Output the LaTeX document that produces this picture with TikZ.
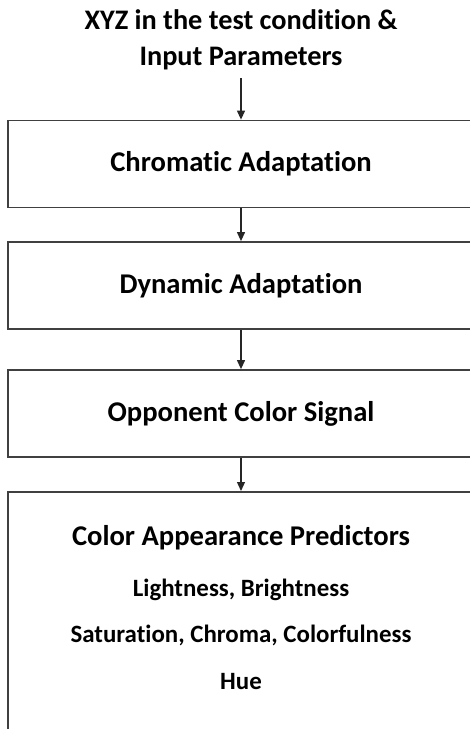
\documentclass[tikz,border=0pt]{standalone}
\usepackage{fontspec}
\setmainfont{Carlito}[Ligatures=NoCommon]
\usepackage{tikz}
\usetikzlibrary{arrows.meta}
\def\boxwidth{466pt}
\def\boxheight{87pt}

\begin{document}
\begin{tikzpicture}[-{Triangle[length=9pt,width=8pt]},draw=black!85,line width=1.2pt]
    \tikzstyle{stage}=[rectangle,draw=black!75,line width=1.8pt,minimum width=\boxwidth,minimum height=\boxheight,inner sep=0pt,font=\fontsize{28.6}{32}\selectfont\bfseries]
    \tikzstyle{title}=[align=center,inner sep=0pt,outer sep=8pt,font=\fontsize{28.3}{36}\selectfont\bfseries]
    \tikzstyle{head}=[font=\fontsize{28.6}{32}\selectfont\bfseries]
    \tikzstyle{item}=[font=\fontsize{24.9}{28}\selectfont\bfseries]

    \path[use as bounding box] (0,0) rectangle (470pt,-729pt);
    \clip (0,0) rectangle (470pt,-729pt);

    % Draw the input text
    \node[title] (in) at (241pt,-40pt) {XYZ in the test condition \&\\Input Parameters};

    % Draw the stages
    \node[stage] (chrom) at (241pt,-164pt) {Chromatic Adaptation};
    \node[stage] (dyn) at (241pt,-285.5pt) {Dynamic Adaptation};
    \node[stage] (opp) at (241pt,-413.5pt) {Opponent Color Signal};
    \node[stage,minimum height=250pt,anchor=north] (pred) at (241pt,-491pt) {};

    % Predictors inside the last box
    \node[head] (cap) at (241pt,-538pt) {Color Appearance Predictors};
    \node[item,below of=cap,node distance=52pt] (lb) {Lightness, Brightness};
    \node[item,below of=lb,node distance=45pt] (scc) {Saturation, Chroma, Colorfulness};
    \node[item,below of=scc,node distance=47pt] (hue) {Hue};

    % Connect the stages
    \path (in) edge (chrom);
    \path (chrom) edge (dyn);
    \path (dyn) edge (opp);
    \path (opp) edge (pred);
\end{tikzpicture}
\end{document}
